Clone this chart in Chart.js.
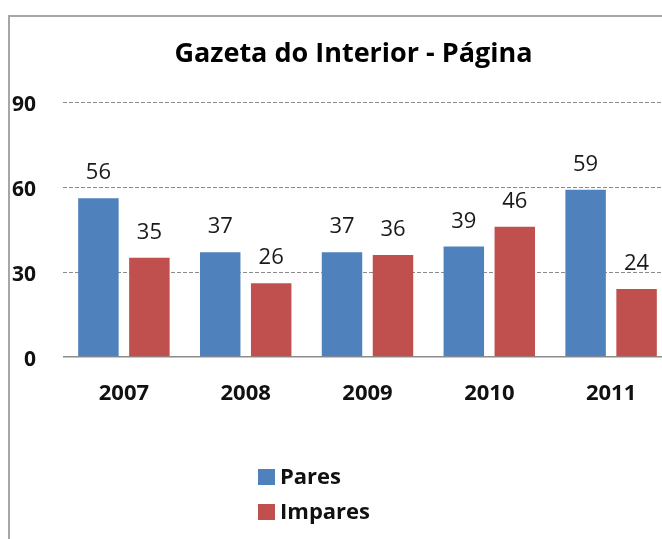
<!DOCTYPE html>
<html>
<head>
<meta charset="utf-8">
<script src="https://cdn.jsdelivr.net/npm/chart.js@4/dist/chart.umd.min.js"></script>
<style>
  html, body { margin: 0; padding: 0; background: #fff; overflow: hidden; width: 662px; height: 539px; }
  #frame { position: absolute; left: 8px; top: 15px; width: 800px; height: 700px;
           border-left: 2px solid #a6a6a6; border-top: 2px solid #a6a6a6; }
  #wrap { position: absolute; left: 0; top: 0; width: 707px; height: 539px; }
</style>
</head>
<body>
<div id="frame"></div>
<div id="wrap"><canvas id="c" width="707" height="539"></canvas></div>
<script>
const titleText = 'Gazeta do Interior - Página';
const categories = ['2007', '2008', '2009', '2010', '2011'];
const seriesNames = ['Pares', 'Impares'];
const paresValues = [56, 37, 37, 39, 59];
const imparesValues = [35, 26, 36, 46, 24];
const yTicks = [0, 30, 60, 90];
const colors = ['#4F81BD', '#C0504D'];

const FONT = '"Open Sans", "Liberation Sans", sans-serif';

const valueLabels = {
  id: 'valueLabels',
  afterDatasetsDraw(chart) {
    const ctx = chart.ctx;
    ctx.save();
    ctx.font = '22px ' + FONT;
    ctx.fillStyle = '#1a1a1a';
    ctx.textAlign = 'center';
    ctx.textBaseline = 'alphabetic';
    chart.data.datasets.forEach((ds, di) => {
      const meta = chart.getDatasetMeta(di);
      meta.data.forEach((el, i) => {
        ctx.fillText(String(ds.data[i]), el.x, el.y - 19);
      });
    });
    ctx.restore();
  }
};

const customLegend = {
  id: 'customLegend',
  afterDraw(chart) {
    const ctx = chart.ctx;
    ctx.save();
    ctx.font = 'bold 22px ' + FONT;
    ctx.textAlign = 'left';
    ctx.textBaseline = 'middle';
    const left = 258, top = 469, gap = 35;
    chart.data.datasets.forEach((ds, i) => {
      const y = top + i * gap;
      ctx.fillStyle = ds.backgroundColor;
      ctx.fillRect(left, y, 17, 16);
      ctx.fillStyle = '#111';
      ctx.fillText(ds.label, left + 22, y + 9);
    });
    ctx.restore();
  }
};

new Chart(document.getElementById('c'), {
  type: 'bar',
  data: {
    labels: categories,
    datasets: [
      { label: seriesNames[0], data: paresValues, backgroundColor: colors[0], borderWidth: 0 },
      { label: seriesNames[1], data: imparesValues, backgroundColor: colors[1], borderWidth: 0 }
    ]
  },
  options: {
    responsive: false,
    animation: false,
    events: [],
    layout: { padding: { left: 0, right: 0, top: 0, bottom: 0 } },
    datasets: { bar: { categoryPercentage: 0.837, barPercentage: 0.794 } },
    plugins: {
      legend: { display: false },
      tooltip: { enabled: false },
      title: {
        display: true,
        text: titleText,
        color: '#000',
        font: { family: FONT, size: 27, weight: 'bold' },
        padding: { top: 38, bottom: 31.6 }
      }
    },
    scales: {
      x: {
        grid: { display: false },
        border: { display: false },
        ticks: { color: '#111', font: { family: FONT, size: 22, weight: 'bold' }, padding: 16 },
        afterFit(s) { s.height = 182; }
      },
      y: {
        min: 0, max: 90,
        afterBuildTicks(s) { s.ticks = yTicks.map(v => ({ value: v })); },
        grid: {
          drawTicks: false,
          color: '#8c8c8c',
          lineWidth: ctx => ctx.tick && ctx.tick.value === 0 ? 1.5 : 1
        },
        border: { display: false, dash: ctx => ctx.tick && ctx.tick.value === 0 ? [] : [4, 2] },
        ticks: { color: '#111', font: { family: FONT, size: 21, weight: 'bold' }, padding: 27, labelOffset: 3 },
        afterFit(s) { s.width = 63; }
      },
      y2: {
        position: 'right',
        display: true,
        grid: { display: false, drawTicks: false },
        border: { display: false },
        ticks: { display: false },
        afterFit(s) { s.width = 35; }
      }
    }
  },
  plugins: [valueLabels, customLegend]
});
</script>
</body>
</html>
